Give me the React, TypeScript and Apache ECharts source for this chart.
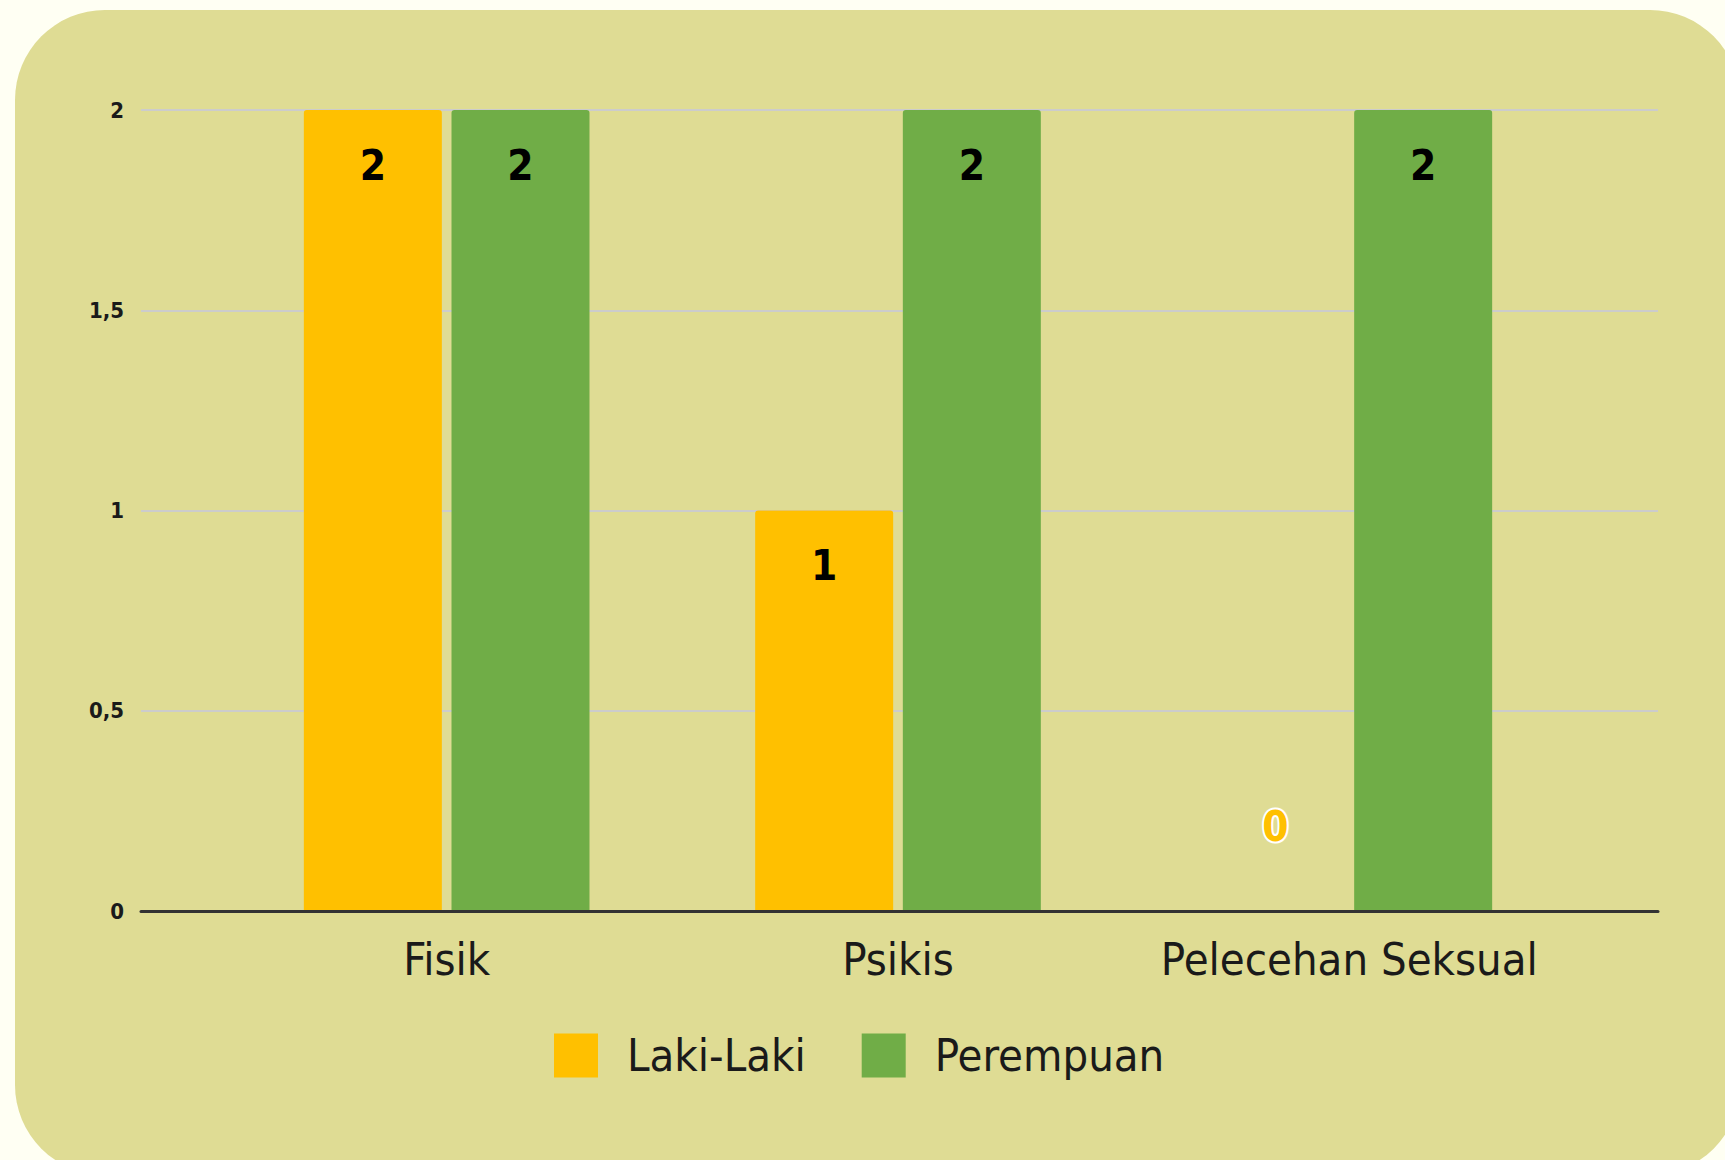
import React, { useEffect, useRef } from "react";
import * as echarts from "echarts";

const categories = ["Fisik", "Psikis", "Pelecehan Seksual"];
const lakiLaki = [2, 1, 0];
const perempuan = [2, 2, 2];
const seriesNames = ["Laki-Laki", "Perempuan"];
const yTicks = [0, 0.5, 1, 1.5, 2];

const FONT = "'DejaVu Sans Condensed', 'DejaVu Sans', sans-serif";
const W = 1725;
const H = 1160;

export default function App() {
  const ref = useRef<HTMLDivElement>(null);
  useEffect(() => {
    if (!ref.current) return;
    const chart = echarts.init(ref.current, undefined, { renderer: "svg" });
    const valueLabel = {
      show: true,
      position: "insideTop",
      distance: 34,
      color: "#000",
      fontSize: 42,
      fontWeight: "bold",
      fontFamily: FONT,
    };
    const mkData = (arr: number[], color: string) =>
      arr.map((v) =>
        v === 0
          ? {
              value: v,
              label: {
                show: true,
                position: "top",
                distance: 64,
                color: color,
                textBorderColor: "#ffffff",
                textBorderWidth: 4,
                fontSize: 42,
                fontWeight: "bold",
                fontFamily: FONT,
              },
            }
          : v
      );
    chart.setOption({
      animation: false,
      backgroundColor: "#fffff3",
      graphic: [
        {
          type: "rect",
          z: -10,
          silent: true,
          shape: { x: 15, y: 10, width: 1725, height: 1165, r: 90 },
          style: { fill: "#dfdc94" },
        },
      ],
      textStyle: { fontFamily: FONT },
      legend: {
        left: 549,
        top: 1028,
        itemWidth: 44,
        itemHeight: 44,
        itemGap: 56,
        icon: "rect",
        data: seriesNames,
        textStyle: {
          fontSize: 45,
          color: "#1a1a1a",
          fontFamily: FONT,
          padding: [0, 0, 0, 24],
        },
      },
      grid: [
        { left: 141, right: W - 1658, top: 110, bottom: H - 911 },
        { left: 221, right: W - 1575, top: 110, bottom: H - 911 },
      ],
      xAxis: [
        {
          gridIndex: 0,
          type: "value",
          min: 0,
          max: 1,
          axisLine: { show: true, lineStyle: { color: "#333333", width: 3 } },
          axisTick: { show: false },
          axisLabel: { show: false },
          splitLine: { show: false },
          z: 5,
        },
        {
          gridIndex: 1,
          type: "category",
          data: categories,
          axisLine: { show: false },
          axisTick: { show: false },
          axisLabel: {
            interval: 0,
            margin: 26,
            fontSize: 45,
            color: "#1a1a1a",
            fontFamily: FONT,
          },
        },
      ],
      yAxis: [
        {
          gridIndex: 0,
          type: "value",
          min: yTicks[0],
          max: yTicks[yTicks.length - 1],
          interval: 0.5,
          axisLine: { show: false },
          axisTick: { show: false },
          axisLabel: {
            margin: 17,
            fontSize: 22,
            fontWeight: "bold",
            color: "#1a1a1a",
            fontFamily: FONT,
            formatter: (v: number) => String(v).replace(".", ","),
          },
          splitLine: { lineStyle: { color: "#cccccc", width: 2 } },
        },
        {
          gridIndex: 1,
          type: "value",
          min: yTicks[0],
          max: yTicks[yTicks.length - 1],
          interval: 0.5,
          show: false,
          splitLine: { show: false },
        },
      ],
      series: [
        {
          name: seriesNames[0],
          type: "bar",
          xAxisIndex: 1,
          yAxisIndex: 1,
          data: mkData(lakiLaki, "#ffc000"),
          barWidth: 138,
          barGap: "7%",
          itemStyle: { color: "#ffc000", borderRadius: [3, 3, 0, 0] },
          label: valueLabel,
        },
        {
          name: seriesNames[1],
          type: "bar",
          xAxisIndex: 1,
          yAxisIndex: 1,
          data: mkData(perempuan, "#70ad47"),
          barWidth: 138,
          barGap: "7%",
          itemStyle: { color: "#70ad47", borderRadius: [3, 3, 0, 0] },
          label: valueLabel,
        },
      ],
    });
    return () => chart.dispose();
  }, []);
  return (
    <div
      ref={ref}
      style={{ position: "fixed", left: 0, top: 0, width: W, height: H }}
    />
  );
}
